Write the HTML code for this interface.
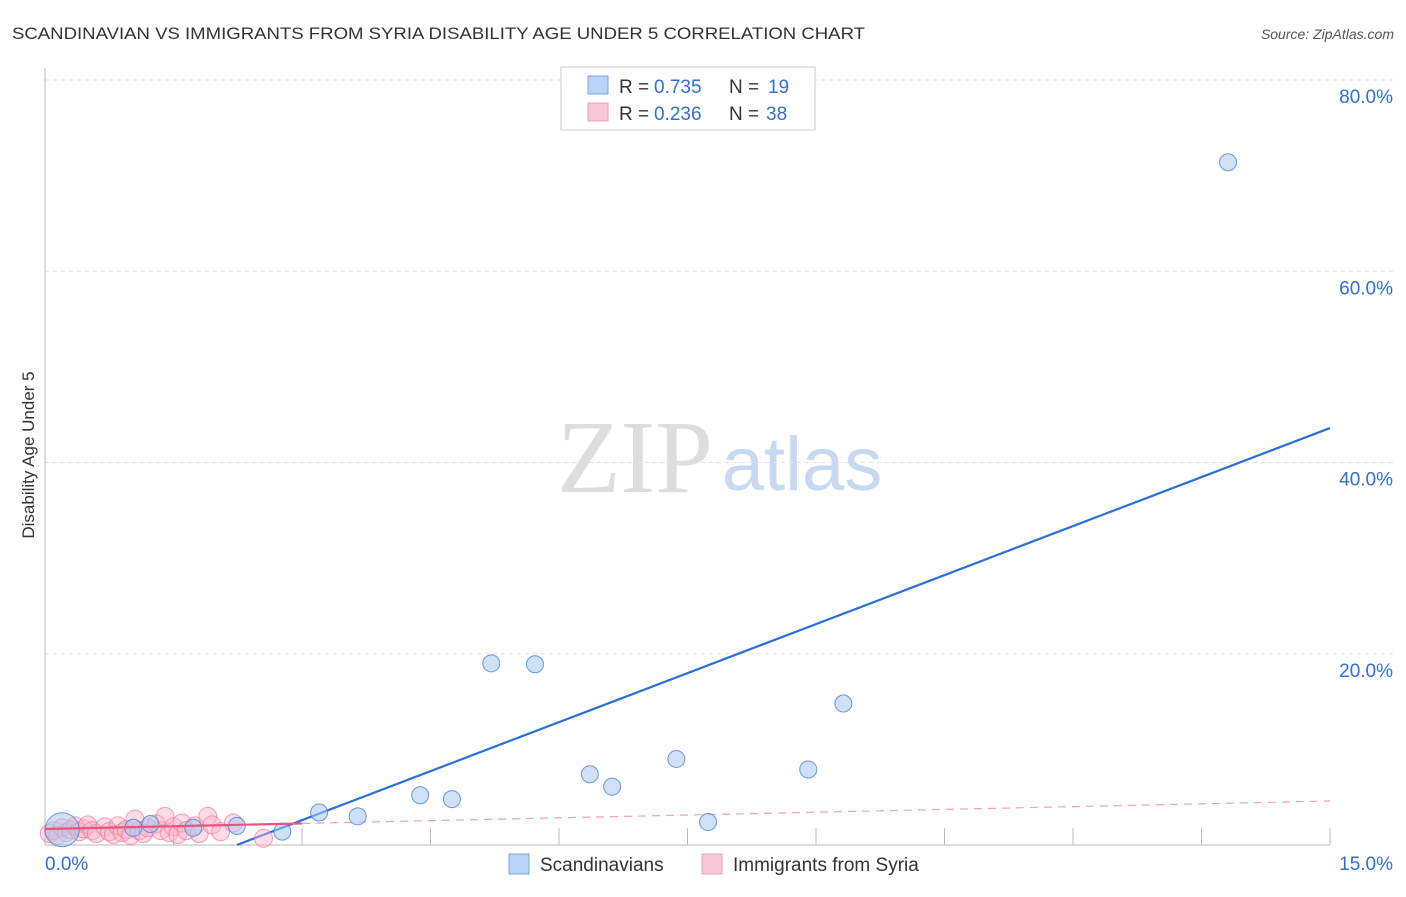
<!DOCTYPE html>
<html><head><meta charset="utf-8"><style>
body{margin:0;background:#fff;font-family:"Liberation Sans",sans-serif;}
</style></head><body>
<svg width="1406" height="892" xmlns="http://www.w3.org/2000/svg">
<text x="12" y="39" font-size="17" fill="#333" textLength="853" lengthAdjust="spacingAndGlyphs">SCANDINAVIAN VS IMMIGRANTS FROM SYRIA DISABILITY AGE UNDER 5 CORRELATION CHART</text>
<text x="1394" y="39" font-size="14" fill="#555" font-style="italic" text-anchor="end">Source: ZipAtlas.com</text>
<text x="34" y="455" font-size="17" fill="#333" text-anchor="middle" transform="rotate(-90 34 455)">Disability Age Under 5</text>
<g>
<text x="635" y="492" font-size="104" fill="#ddd" font-family="Liberation Serif,serif" text-anchor="middle">ZIP</text>
<text x="802" y="490" font-size="76" fill="#c8d8f0" text-anchor="middle">atlas</text>
</g>
<g id="grid"></g><g id="axes"></g><g id="lines"></g><g id="pts"></g>
<g>
<rect x="561" y="67" width="254" height="63" fill="#fff" stroke="#ccc"/>
<rect x="588" y="76" width="20" height="18" fill="#b8d3f5" stroke="#7aa7e0"/>
<text y="93" font-size="19" fill="#333"><tspan x="619">R =</tspan><tspan x="654" fill="#2f6fd6">0.735</tspan><tspan x="729">N =</tspan><tspan x="768" fill="#2f6fd6">19</tspan></text>
<rect x="588" y="103" width="20" height="18" fill="#f9c7d6" stroke="#f09ab5"/>
<text y="120" font-size="19" fill="#333"><tspan x="619">R =</tspan><tspan x="654" fill="#2f6fd6">0.236</tspan><tspan x="729">N =</tspan><tspan x="766" fill="#2f6fd6">38</tspan></text>
</g>
<g>
<rect x="509" y="854" width="20" height="20" fill="#b8d3f5" stroke="#7aa7e0"/>
<text x="540" y="871" font-size="19" fill="#333">Scandinavians</text>
<rect x="702" y="854" width="20" height="20" fill="#f9c7d6" stroke="#f09ab5"/>
<text x="733" y="871" font-size="19" fill="#333">Immigrants from Syria</text>
</g>
</svg>
<script>
const xTicks=[0,15];
const yTicks=[20,40,60,80];
const blueX=[0.2,1.03,1.23,1.73,2.24,2.77,3.2,3.65,4.38,4.75,5.21,5.72,6.36,6.62,7.37,7.74,8.91,9.32,13.81];
const blueY=[1.6,1.8,2.2,1.8,2.0,1.4,3.4,3.0,5.2,4.8,19.0,18.9,7.4,6.1,9.0,2.4,7.9,14.8,71.4];
const pinkX=[0.05,0.1,0.15,0.2,0.25,0.3,0.35,0.4,0.45,0.5,0.55,0.6,0.7,0.75,0.8,0.85,0.9,0.95,1.0,1.05,1.1,1.15,1.2,1.3,1.35,1.4,1.45,1.5,1.55,1.6,1.65,1.75,1.8,1.9,1.95,2.05,2.2,2.55];
const pinkY=[1.2,1.5,1.0,1.8,1.3,1.6,2.0,1.4,1.7,2.1,1.5,1.2,1.9,1.4,1.1,2.0,1.3,1.6,1.0,2.7,1.5,1.2,1.8,2.2,1.5,3.0,1.3,1.9,1.1,2.3,1.5,2.0,1.2,3.0,2.1,1.4,2.3,0.7];
const blueFit=[2.24,0,15,43.6];
const pinkFit=[0,1.67,15,4.6];
const NS="http://www.w3.org/2000/svg";
const X0=45,X1=1330,Y0=845,Y80=80;
const sx=v=>X0+(X1-X0)*v/15;
const sy=v=>Y0-(Y0-Y80)*v/80;
function mk(t,a,p){const e=document.createElementNS(NS,t);for(const k in a)e.setAttribute(k,a[k]);p.appendChild(e);return e;}
const grid=document.getElementById('grid'),axes=document.getElementById('axes'),lines=document.getElementById('lines'),pts=document.getElementById('pts');
yTicks.forEach(v=>{
const l=mk('line',{x1:X0,x2:1394,y1:sy(v),y2:sy(v),stroke:'#e2e2e2','stroke-dasharray':'4 4'},grid);


const t=mk('text',{x:1393,y:sy(v)+23,'font-size':19,fill:'#2f6fd6','text-anchor':'end'},axes);
t.textContent=v.toFixed(1)+'%';


});
const ya=mk('line',{x1:X0,x2:X0,y1:68,y2:Y0,stroke:'#bbb'},axes);


const xa=mk('line',{x1:X0,x2:X1,y1:Y0,y2:Y0,stroke:'#bbb'},axes);


for(let i=1;i<=10;i++){const tk=mk('line',{x1:sx(i*1.5),x2:sx(i*1.5),y1:828,y2:Y0,stroke:'#bbb'},axes);

}
xTicks.forEach((v,i)=>{const t=mk('text',{x:i?1393:45,y:870,'font-size':19,fill:'#2f6fd6','text-anchor':i?'end':'start'},axes);
t.textContent=v.toFixed(1)+'%';

});
pinkX.forEach((x,i)=>{const c=mk('circle',{cx:sx(x),cy:sy(pinkY[i]),r:9,fill:'rgba(249,180,200,0.45)',stroke:'rgba(236,120,155,0.7)'},pts);

});
blueX.forEach((x,i)=>{const c=mk('circle',{cx:sx(x),cy:sy(blueY[i]),r:i==0?17:8.5,fill:'rgba(170,200,240,0.55)',stroke:'rgba(70,130,210,0.8)'},pts);

});
const bl=mk('line',{x1:sx(blueFit[0]),y1:sy(blueFit[1]),x2:sx(blueFit[2]),y2:sy(blueFit[3]),stroke:'#2b6fd8','stroke-width':2.2},lines);


const pm=pinkFit[1]+(pinkFit[3]-pinkFit[1])*3/15;
const p1=mk('line',{x1:sx(0),y1:sy(pinkFit[1]),x2:sx(3),y2:sy(pm),stroke:'#e9547e','stroke-width':2.2},pts);


const p2=mk('line',{x1:sx(3),y1:sy(pm),x2:sx(15),y2:sy(pinkFit[3]),stroke:'#f0a0b8','stroke-width':1.2,'stroke-dasharray':'8 6'},lines);


</script>
</body></html>
